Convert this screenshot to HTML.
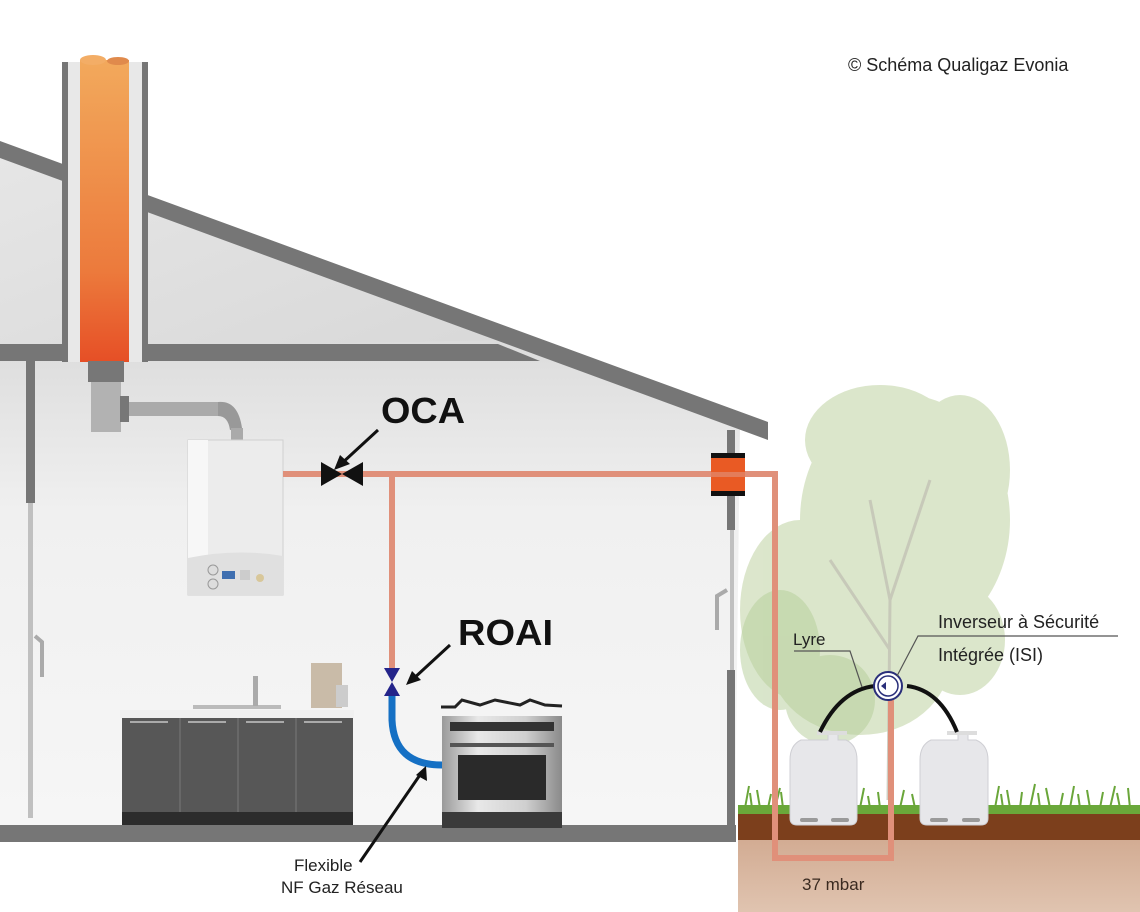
<!DOCTYPE html>
<html><head><meta charset="utf-8"><style>
html,body{margin:0;padding:0;background:#fff;}
svg{display:block;}
text{font-family:"Liberation Sans",sans-serif;}
</style></head><body>
<svg width="1140" height="912" viewBox="0 0 1140 912" xmlns="http://www.w3.org/2000/svg">
<defs>
<linearGradient id="flue" x1="0" y1="0" x2="0" y2="1"><stop offset="0" stop-color="#f2a95c"/><stop offset="0.7" stop-color="#ec7a3c"/><stop offset="1" stop-color="#e64f26"/></linearGradient>
<linearGradient id="room" x1="0" y1="0" x2="0" y2="1"><stop offset="0" stop-color="#dcdcdc"/><stop offset="0.35" stop-color="#f0f0f0"/><stop offset="1" stop-color="#f6f6f6"/></linearGradient>
<linearGradient id="attic" x1="0" y1="0" x2="1" y2="1"><stop offset="0" stop-color="#e6e6e6"/><stop offset="1" stop-color="#d8d8d8"/></linearGradient>
<linearGradient id="oven" x1="0" y1="0" x2="1" y2="0"><stop offset="0" stop-color="#9a9a9a"/><stop offset="0.3" stop-color="#e8e8e8"/><stop offset="0.7" stop-color="#cfcfcf"/><stop offset="1" stop-color="#8a8a8a"/></linearGradient>
<linearGradient id="soil2" x1="0" y1="0" x2="0" y2="1"><stop offset="0" stop-color="#d2ab92"/><stop offset="1" stop-color="#e0c4b0"/></linearGradient>
</defs>

<!-- trees -->
<g fill="#d3e0bf" opacity="0.8">
<ellipse cx="905" cy="520" rx="105" ry="125"/>
<ellipse cx="880" cy="440" rx="75" ry="55"/>
<ellipse cx="960" cy="470" rx="50" ry="75"/>
<ellipse cx="800" cy="610" rx="60" ry="90"/>
<ellipse cx="860" cy="660" rx="90" ry="75"/>
<ellipse cx="960" cy="640" rx="45" ry="55"/>
</g>
<g fill="#b4cd98" opacity="0.5">
<ellipse cx="780" cy="650" rx="40" ry="60"/>
<ellipse cx="830" cy="700" rx="45" ry="45"/>
</g>
<g stroke="#c2c2b4" stroke-width="3" fill="none" opacity="0.8">
<path d="M888 800 L890 600 L870 500 M890 600 L930 480 M890 650 L830 560"/>
</g>

<!-- attic -->
<polygon points="0,150 505,336 498,350 0,350" fill="url(#attic)"/>
<!-- room -->
<polygon points="0,350 505,340 740,425 735,828 0,828" fill="url(#room)"/>
<!-- roof -->
<polygon points="0,141 768,422 768,440 0,158" fill="#767676"/>
<!-- attic floor -->
<polygon points="0,344 498,344 540,361 0,361" fill="#767676"/>
<!-- chimney -->
<rect x="62" y="62" width="86" height="300" fill="#e8e8e8"/>
<rect x="62" y="62" width="6" height="300" fill="#767676"/>
<rect x="142" y="62" width="6" height="300" fill="#767676"/>
<rect x="80" y="60" width="49" height="302" fill="url(#flue)"/>
<ellipse cx="93" cy="60" rx="13" ry="5" fill="#f3ad66"/>
<ellipse cx="118" cy="61" rx="11" ry="4" fill="#e08a4c"/>
<!-- flue connector -->
<rect x="88" y="361" width="36" height="21" fill="#777"/>
<rect x="91" y="382" width="30" height="50" fill="#b2b2b2"/>
<rect x="120" y="396" width="9" height="26" fill="#777"/>
<rect x="129" y="402" width="92" height="14" fill="#aaa"/>
<path d="M218 402 Q238 400 242 428 L230 430 Q228 416 218 416Z" fill="#999"/>
<rect x="231" y="428" width="12" height="12" fill="#aaa"/>

<!-- left wall -->
<rect x="26" y="361" width="9" height="142" fill="#767676"/>
<rect x="28" y="503" width="5" height="315" fill="#c0c0c0"/>
<path d="M35 636 L42 642 L42 677" stroke="#aaa" stroke-width="4" fill="none"/>
<!-- right wall -->
<rect x="727" y="430" width="8" height="100" fill="#767676"/>
<rect x="730" y="530" width="4" height="140" fill="#c0c0c0"/>
<rect x="727" y="670" width="8" height="172" fill="#767676"/>
<path d="M727 590 L717 596 L717 630" stroke="#aaa" stroke-width="4" fill="none"/>
<!-- floor -->
<rect x="0" y="825" width="736" height="17" fill="#767676"/>

<!-- ground -->
<rect x="738" y="838" width="402" height="74" fill="url(#soil2)"/>
<rect x="738" y="812" width="402" height="28" fill="#7c3f1c"/>
<rect x="738" y="805" width="402" height="9" fill="#6aa83a"/>
<g stroke="#6aa63a" stroke-width="2" fill="none">
<path d="M745 808 l4 -22 M752 808 l-2 -15 M760 808 l-3 -18 M768 808 l3 -14 M775 808 l5 -20 M783 808 l-2 -16 M860 808 l4 -20 M870 808 l-2 -12 M880 808 l-2 -16 M900 808 l4 -18 M915 808 l-3 -14 M995 808 l4 -22 M1003 808 l-2 -14 M1010 808 l-3 -18 M1020 808 l2 -16 M1030 808 l5 -24 M1040 808 l-2 -15 M1050 808 l-4 -20 M1060 808 l3 -15 M1070 808 l4 -22 M1080 808 l-2 -14 M1090 808 l-3 -18 M1100 808 l3 -16 M1110 808 l5 -22 M1120 808 l-3 -15 M1130 808 l-2 -20"/>
</g>

<!-- boiler -->
<rect x="188" y="440" width="95" height="155" fill="#ececec" stroke="#d0d0d0"/>
<rect x="188" y="440" width="20" height="155" fill="#f7f7f7"/>
<path d="M188 558 Q235 548 283 556 L283 595 L188 595Z" fill="#e0e0e0"/>
<circle cx="213" cy="570" r="5" fill="#ddd" stroke="#999"/>
<circle cx="213" cy="584" r="5" fill="#ddd" stroke="#999"/>
<rect x="222" y="571" width="13" height="8" fill="#3f6fb0"/>
<rect x="240" y="570" width="10" height="10" fill="#ccc"/>
<circle cx="260" cy="578" r="4" fill="#d8c79a"/>

<!-- gas pipes -->
<g stroke="#e0907a" stroke-width="6" fill="none">
<path d="M283 474 L775 474 L775 858 L891 858 L891 700"/>
<path d="M392 474 L392 670"/>
</g>
<!-- wall sleeve -->
<rect x="711" y="458" width="34" height="38" fill="#e95a24"/>
<rect x="711" y="453" width="34" height="5" fill="#111"/>
<rect x="711" y="491" width="34" height="5" fill="#111"/>
<rect x="711" y="472" width="34" height="5" fill="#e08a72" opacity="0.7"/>

<!-- OCA valve -->
<polygon points="321,462 342,474 321,486" fill="#111"/>
<polygon points="363,462 342,474 363,486" fill="#111"/>
<!-- ROAI valve -->
<polygon points="384,668 400,668 392,682" fill="#24248a"/>
<polygon points="384,696 400,696 392,682" fill="#24248a"/>
<!-- flexible -->
<path d="M392 696 L392 720 Q394 765 442 765" stroke="#1570c4" stroke-width="7" fill="none"/>

<!-- cabinets -->
<rect x="120" y="710" width="234" height="8" fill="#f0f0f0"/>
<rect x="122" y="718" width="231" height="107" fill="#575757"/>
<rect x="122" y="812" width="231" height="13" fill="#2c2c2c"/>
<g stroke="#7a7a7a" stroke-width="1"><line x1="180" y1="718" x2="180" y2="812"/><line x1="238" y1="718" x2="238" y2="812"/><line x1="296" y1="718" x2="296" y2="812"/></g>
<g stroke="#aaa" stroke-width="2"><line x1="130" y1="722" x2="168" y2="722"/><line x1="188" y1="722" x2="226" y2="722"/><line x1="246" y1="722" x2="284" y2="722"/><line x1="304" y1="722" x2="342" y2="722"/></g>
<rect x="193" y="705" width="88" height="4" fill="#bbb"/>
<rect x="253" y="676" width="5" height="30" fill="#aaa"/>
<rect x="311" y="663" width="31" height="45" fill="#c9bba8"/>
<rect x="336" y="685" width="12" height="22" fill="#ccc"/>
<!-- oven -->
<path d="M441 707 L455 707 L462 700 L480 705 L495 700 L520 705 L530 700 L545 705 L562 706" stroke="#222" stroke-width="3" fill="none"/>
<rect x="442" y="716" width="120" height="112" fill="url(#oven)"/>
<rect x="450" y="722" width="104" height="9" fill="#333"/>
<rect x="450" y="743" width="104" height="4" fill="#555"/>
<rect x="458" y="755" width="88" height="45" fill="#2a2a2a"/>
<rect x="442" y="812" width="120" height="16" fill="#3a3a3a"/>

<!-- tanks -->
<g fill="#e7e7ea" stroke="#cfcfd4">
<path d="M820 740 L828 740 L828 733 L838 733 L838 740 L846 740 Q857 745 857 760 L857 818 Q857 825 850 825 L797 825 Q790 825 790 818 L790 760 Q790 745 801 740Z"/>
<path d="M950 740 L958 740 L958 733 L968 733 L968 740 L976 740 Q988 745 988 760 L988 818 Q988 825 981 825 L927 825 Q920 825 920 818 L920 760 Q920 745 931 740Z"/>
</g>
<rect x="817" y="731" width="30" height="4" fill="#ddd"/>
<rect x="947" y="731" width="30" height="4" fill="#ddd"/>
<g fill="#9a9a9a"><rect x="800" y="818" width="18" height="4" rx="2"/><rect x="831" y="818" width="18" height="4" rx="2"/><rect x="930" y="818" width="18" height="4" rx="2"/><rect x="962" y="818" width="18" height="4" rx="2"/></g>
<!-- lyre -->
<path d="M820 732 Q840 690 875 686 M907 686 Q940 690 957 732" stroke="#111" stroke-width="4" fill="none"/>
<circle cx="888" cy="686" r="14" fill="#fff" stroke="#2a2f7a" stroke-width="2"/>
<circle cx="888" cy="686" r="10" fill="#fff" stroke="#2a2f7a" stroke-width="1.5"/>
<polygon points="881,686 886,682 886,690" fill="#2a2f7a"/>
<!-- leader lines -->
<path d="M794 651 L850 651 L862 687" stroke="#555" stroke-width="1.2" fill="none"/>
<path d="M897 676 L918 636 L1118 636" stroke="#555" stroke-width="1.2" fill="none"/>

<!-- arrows -->
<g stroke="#111" stroke-width="3" fill="none">
<line x1="378" y1="430" x2="340" y2="465"/>
<line x1="450" y1="645" x2="412" y2="680"/>
<line x1="360" y1="862" x2="422" y2="772"/>
</g>
<g fill="#111">
<polygon points="334,470 340,455 350,464"/>
<polygon points="406,685 412,671 421,680"/>
<polygon points="426,766 416,775 427,781"/>
</g>

<!-- texts -->
<text x="848" y="71" font-size="18" fill="#222">© Schéma Qualigaz Evonia</text>
<text x="381" y="423" font-size="36" font-weight="bold" fill="#111" textLength="84" lengthAdjust="spacingAndGlyphs">OCA</text>
<text x="458" y="645" font-size="36" font-weight="bold" fill="#111" textLength="95" lengthAdjust="spacingAndGlyphs">ROAI</text>
<text x="294" y="871" font-size="17" fill="#222">Flexible</text>
<text x="281" y="893" font-size="17" fill="#222">NF Gaz Réseau</text>
<text x="793" y="645" font-size="17" fill="#222">Lyre</text>
<text x="938" y="628" font-size="18" fill="#222">Inverseur à Sécurité</text>
<text x="938" y="661" font-size="18" fill="#222">Intégrée (ISI)</text>
<text x="802" y="890" font-size="17" fill="#3a2a20">37 mbar</text>
</svg>
</body></html>
